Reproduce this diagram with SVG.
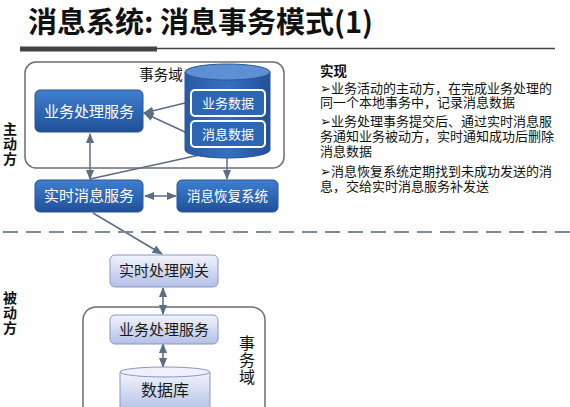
<svg xmlns="http://www.w3.org/2000/svg" width="570" height="407" viewBox="0 0 570 407">
<defs>
<linearGradient id="gDark" x1="0" y1="0" x2="0" y2="1">
<stop offset="0" stop-color="#3f7fcf"/>
<stop offset="1" stop-color="#1f5099"/>
</linearGradient>
<linearGradient id="gLight" x1="0" y1="0" x2="0" y2="1">
<stop offset="0" stop-color="#f2f4fc"/>
<stop offset="1" stop-color="#b3c0e6"/>
</linearGradient>
<linearGradient id="gCyl" x1="0" y1="0" x2="1" y2="0">
<stop offset="0" stop-color="#2a5aa5"/>
<stop offset="0.5" stop-color="#3670c0"/>
<stop offset="1" stop-color="#22509a"/>
</linearGradient>
<marker id="arr" viewBox="0 0 10 10" refX="9" refY="5" markerWidth="7" markerHeight="7" orient="auto-start-reverse">
<path d="M0,1 L10,5 L0,9 Z" fill="#5c6d85"/>
</marker>
<style>
.title{font-family:"Noto Sans CJK SC","Liberation Sans",sans-serif;font-weight:bold;font-size:29px;fill:#111}
.dom{fill:#fff;stroke:#6e6e6e;stroke-width:1.5}
.dk{fill:url(#gDark);stroke:#2a5594;stroke-width:1}
.lt{fill:url(#gLight);stroke:#8a96c4;stroke-width:1}
.wt{font-family:"Noto Sans CJK SC","Liberation Sans",sans-serif;font-size:15px;fill:#fff;text-anchor:middle}
.bt{font-family:"Noto Sans CJK SC","Liberation Sans",sans-serif;font-size:15px;fill:#1a1a1a;text-anchor:middle}
.lbl{font-family:"Noto Sans CJK SC","Liberation Sans",sans-serif;font-size:14.5px;fill:#111;text-anchor:middle}
.vert{font-family:"Noto Sans CJK SC","Liberation Sans",sans-serif;fill:#111;writing-mode:tb;text-anchor:start}
.rt{font-family:"Noto Sans CJK SC","Liberation Sans",sans-serif;font-size:13px;fill:#111}
.conn{stroke:#5c6d85;stroke-width:1.5;fill:none}
.inner{fill:#2e66b6;stroke:#fff;stroke-width:2}
</style>
</defs>

<g id="title">
<text class="title" x="28" y="33">消息系统: 消息事务模式(1)</text>
<rect x="20" y="46.5" width="137" height="5" fill="#444"/>
<line x1="157" y1="48.5" x2="555" y2="48.5" stroke="#444" stroke-width="1.5"/>
</g>

<g id="side-labels">
<text class="vert" x="10" y="122" style="font-size:14px;font-weight:bold;letter-spacing:1px">主动方</text>
<text class="vert" x="10" y="291" style="font-size:14px;font-weight:bold;letter-spacing:1px">被动方</text>
</g>

<g id="domain-top">
<rect class="dom" x="25" y="62" width="259" height="106" rx="11"/>
<text class="lbl" x="161" y="80">事务域</text>
</g>

<g id="domain-bottom">
<rect class="dom" x="83" y="307" width="182" height="115" rx="13"/>
<text class="vert" x="247" y="335" style="font-size:16px;letter-spacing:1px">事务域</text>
</g>

<g id="connectors">
<line class="conn" x1="185" y1="103" x2="144" y2="113" marker-end="url(#arr)"/>
<line class="conn" x1="185" y1="132" x2="144" y2="113" marker-end="url(#arr)"/>
<line class="conn" x1="90" y1="134" x2="90" y2="179" marker-start="url(#arr)" marker-end="url(#arr)"/>
<line class="conn" x1="227" y1="149" x2="90" y2="179"/>
<line class="conn" x1="227" y1="149" x2="227" y2="179" marker-end="url(#arr)"/>
<line class="conn" x1="145" y1="196" x2="176" y2="196" marker-start="url(#arr)" marker-end="url(#arr)"/>
<line class="conn" x1="93" y1="213" x2="162" y2="254" marker-end="url(#arr)"/>
<line class="conn" x1="163" y1="288" x2="163" y2="314" marker-start="url(#arr)" marker-end="url(#arr)"/>
<line class="conn" x1="163" y1="344" x2="163" y2="367" marker-start="url(#arr)" marker-end="url(#arr)"/>
<line x1="3" y1="232" x2="570" y2="232" stroke="#7d8a99" stroke-width="2" stroke-dasharray="15 8"/>
</g>

<g id="biz-service-top">
<rect class="dk" x="35" y="90" width="108" height="42" rx="5"/>
<text class="wt" x="89" y="116.5">业务处理服务</text>
</g>

<g id="db-top">
<path d="M185,72 L185,150 A42.5,8 0 0 0 270,150 L270,72 Z" fill="url(#gCyl)" stroke="#2a5594"/>
<ellipse cx="227.5" cy="72" rx="42.5" ry="8" fill="#5d8fd3" stroke="#2a5594"/>
<g id="biz-data">
<rect class="inner" x="191" y="90" width="74" height="26" rx="4"/>
<text class="wt" x="228" y="108" style="font-size:13px">业务数据</text>
</g>
<g id="msg-data">
<rect class="inner" x="191" y="121" width="74" height="26" rx="4"/>
<text class="wt" x="228" y="139" style="font-size:13px">消息数据</text>
</g>
</g>

<g id="realtime-msg">
<rect class="dk" x="35" y="180" width="108" height="32" rx="5"/>
<text class="wt" x="89" y="201">实时消息服务</text>
</g>

<g id="msg-recovery">
<rect class="dk" x="177" y="180" width="101" height="32" rx="5"/>
<text class="wt" x="227.5" y="201" style="font-size:13.5px">消息恢复系统</text>
</g>

<g id="gateway">
<rect class="lt" x="110" y="255" width="108" height="32" rx="5"/>
<text class="bt" x="164" y="276">实时处理网关</text>
</g>

<g id="biz-service-bottom">
<rect class="lt" x="110" y="315" width="108" height="29" rx="5"/>
<text class="bt" x="164" y="335">业务处理服务</text>
</g>

<g id="db-bottom">
<path d="M120,372 L120,412 L210,412 L210,372 Z" fill="url(#gLight)" stroke="#8a96c4"/>
<ellipse cx="165" cy="372" rx="45" ry="5" fill="#eef1fb" stroke="#8a96c4"/>
<text class="bt" x="165" y="396" style="font-size:16px">数据库</text>
</g>

<g id="notes">
<text class="rt"><tspan x="320" y="76" style="font-weight:bold;font-size:13.5px">实现</tspan><tspan x="320" y="93">➢业务活动的主动方，在完成业务处理的</tspan><tspan x="320" y="107">同一个本地事务中，记录消息数据</tspan><tspan x="320" y="126">➢业务处理事务提交后、通过实时消息服</tspan><tspan x="320" y="141">务通知业务被动方，实时通知成功后删除</tspan><tspan x="320" y="156">消息数据</tspan><tspan x="320" y="176">➢消息恢复系统定期找到未成功发送的消</tspan><tspan x="320" y="191">息，交给实时消息服务补发送</tspan></text>
</g>
</svg>
